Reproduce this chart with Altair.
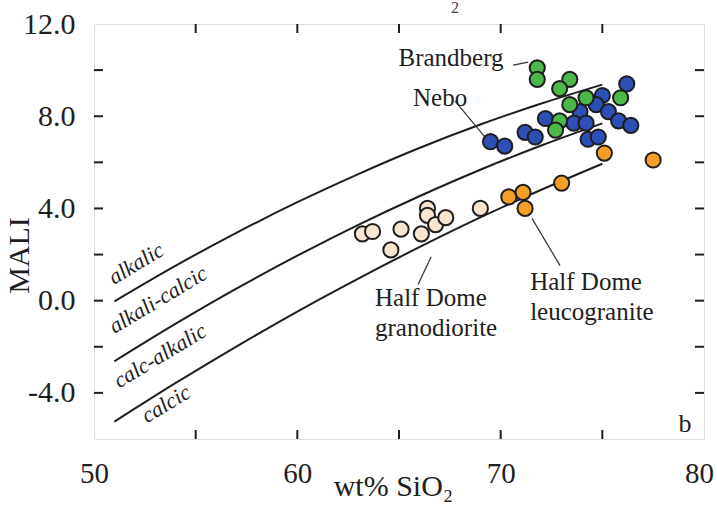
import altair as alt
import pandas as pd

# ---- data ----
green_x = [71.8, 71.8, 73.4, 72.9, 74.2, 75.9, 73.4, 72.9, 72.7]
green_y = [10.1, 9.6, 9.6, 9.2, 8.8, 8.8, 8.5, 7.8, 7.4]

blue_x = [76.2, 75.0, 74.7, 75.3, 73.9, 72.2, 73.6, 74.2, 75.8, 76.4, 71.2, 71.7, 74.3, 74.8, 69.5, 70.2]
blue_y = [9.4, 8.9, 8.5, 8.2, 8.2, 7.9, 7.7, 7.7, 7.8, 7.6, 7.3, 7.1, 7.0, 7.1, 6.9, 6.7]

orange_x = [75.1, 77.5, 73.0, 71.1, 70.4, 71.2]
orange_y = [6.4, 6.1, 5.1, 4.7, 4.5, 4.0]

beige_x = [63.2, 63.7, 65.1, 64.6, 66.1, 66.4, 66.4, 66.8, 67.3, 69.0]
beige_y = [2.9, 3.0, 3.1, 2.2, 2.9, 4.0, 3.7, 3.3, 3.6, 4.0]

curve_x = [51, 54, 57, 60, 63, 66, 69, 72, 75]
alkalic_y = [-0.03, 1.51, 2.94, 4.27, 5.49, 6.62, 7.64, 8.55, 9.37]
alkcalcic_y = [-2.63, -1.01, 0.52, 1.95, 3.29, 4.53, 5.68, 6.73, 7.69]
calcalk_y = [-5.25, -3.58, -1.99, -0.47, 0.96, 2.32, 3.61, 4.81, 5.94]

x_ticks = [55, 60, 65, 70, 75]
y_ticks = [-4, -2, 0, 2, 4, 6, 8, 10]
x_labels = [50, 60, 70, 80]
y_labels = [-4, 0, 4, 8, 12]

# curve names and positions
curve_names = ["alkalic", "alkali-calcic", "calc-alkalic", "calcic"]
curve_lab_x = [52.07, 53.15, 53.25, 53.54]
curve_lab_y = [1.61, 0.04, -2.39, -4.48]

# annotations
ann_text = ["Brandberg", "Nebo"]
ann_x = [67.56, 67.02]
ann_y = [10.52, 8.78]
hd_text = ["Half Dome", "granodiorite", "Half Dome", "leucogranite"]
hd_x = [63.82, 63.82, 71.45, 71.45]
hd_y = [0.13, -1.17, 0.83, -0.48]
lead_x = [70.61, 67.76, 65.94, 71.54]
lead_y = [10.22, 8.65, 0.70, 3.57]
lead_x2 = [71.35, 69.28, 66.58, 72.92]
lead_y2 = [10.35, 7.04, 1.91, 1.52]

W, H = 610, 415
FONT = "Liberation Serif"
INK = "#1e1e1e"

xs = alt.Scale(domain=[50, 80], nice=False, zero=False)
ys = alt.Scale(domain=[-6, 12], nice=False, zero=False)
xaxis = alt.Axis(values=x_labels, labelFlush=False, ticks=False, domain=False, grid=False,
                 labelOffset={"condition": {"test": "datum.value == 80", "value": -5}, "value": 0},
                 labelPadding=20, labelFontSize=29, labelFont=FONT, labelColor=INK,
                 title="wt% SiO₂", titleFont=FONT, titleFontSize=30, titleFontWeight="normal",
                 titleColor=INK, titleX=299, titleY=47, titleBaseline="middle", titleAlign="center")
yaxis = alt.Axis(values=y_labels, ticks=False, domain=False, grid=False,
                 labelExpr="datum.value < 0 ? '-' + format(-datum.value, '.1f') : format(datum.value, '.1f')",
                 labelPadding=19, labelFontSize=30, labelFont=FONT, labelColor=INK,
                 title="MALI", titleFont=FONT, titleFontSize=30, titleFontWeight="normal",
                 titleColor=INK, titleX=-75, titleY=231, titleAngle=270,
                 titleBaseline="middle", titleAlign="center")

X = alt.X("x:Q", scale=xs, axis=xaxis)
Y = alt.Y("y:Q", scale=ys, axis=yaxis)

# curves
curves = pd.DataFrame({
    "x": curve_x * 3,
    "y": alkalic_y + alkcalcic_y + calcalk_y,
    "c": ["a"] * 9 + ["b"] * 9 + ["c"] * 9,
})
curve_layer = alt.Chart(curves).mark_line(color=INK, strokeWidth=2, interpolate="monotone").encode(
    x=X, y=Y, detail="c:N")

def pts(xv, yv, color):
    return alt.Chart(pd.DataFrame({"x": xv, "y": yv})).mark_point(
        shape="circle", filled=True, fill=color, stroke=INK, strokeWidth=2, size=230, opacity=1
    ).encode(x=X, y=Y)

beige = pts(beige_x, beige_y, "#f7e5d1")
blue = pts(blue_x, blue_y, "#2e4fb6")
green = pts(green_x, green_y, "#4cb847")
orange = pts(orange_x, orange_y, "#f59e25")

# leader lines
leads = alt.Chart(pd.DataFrame({"x": lead_x, "y": lead_y, "x2": lead_x2, "y2": lead_y2})).mark_rule(
    color="#333333", strokeWidth=1.2).encode(x=X, y=Y, x2="x2:Q", y2="y2:Q")

# curve labels
clabels = alt.Chart(pd.DataFrame({"x": curve_lab_x, "y": curve_lab_y, "t": curve_names})).mark_text(
    font=FONT, fontSize=22, fontStyle="italic", angle=329, color=INK, align="center", baseline="middle"
).encode(x=X, y=Y, text="t:N")

anns = alt.Chart(pd.DataFrame({"x": ann_x, "y": ann_y, "t": ann_text})).mark_text(
    font=FONT, fontSize=25, color=INK, align="center", baseline="middle"
).encode(x=X, y=Y, text="t:N")

hds = alt.Chart(pd.DataFrame({"x": hd_x, "y": hd_y, "t": hd_text})).mark_text(
    font=FONT, fontSize=25, color=INK, align="left", baseline="middle"
).encode(x=X, y=Y, text="t:N")

panel = alt.Chart(pd.DataFrame({"x": [79.07], "y": [-5.35], "t": ["b"]})).mark_text(
    font=FONT, fontSize=26, color=INK, align="center", baseline="middle"
).encode(x=X, y=Y, text="t:N")

top_sub = alt.Chart(pd.DataFrame({"x": [67.76], "y": [12.68], "t": ["2"]})).mark_text(
    font=FONT, fontSize=16, color="#444444", align="center", baseline="middle"
).encode(x=X, y=Y, text="t:N")

# inward ticks
xt = pd.DataFrame({"x": x_ticks})
yt = pd.DataFrame({"y": y_ticks})
tick_style = dict(color=INK, strokeWidth=2)
bt = alt.Chart(xt).mark_rule(**tick_style).encode(x=X, y=alt.value(H), y2=alt.value(H - 9))
tt = alt.Chart(xt).mark_rule(**tick_style).encode(x=X, y=alt.value(0), y2=alt.value(9))
lt = alt.Chart(yt).mark_rule(**tick_style).encode(y=Y, x=alt.value(0), x2=alt.value(9))
rt = alt.Chart(yt).mark_rule(**tick_style).encode(y=Y, x=alt.value(W), x2=alt.value(W - 9))

chart = alt.layer(
    curve_layer, bt, tt, lt, rt, leads, beige, blue, green, orange,
    clabels, anns, hds, panel, top_sub
).properties(
    width=W, height=H,
    autosize=alt.AutoSizeParams(type="none"),
    padding={"left": 94, "top": 24, "right": 13, "bottom": 72},
).configure_view(stroke=INK, strokeWidth=2).configure(background="white")

chart.save("out.html", embed_options={"renderer": "svg", "actions": False})
